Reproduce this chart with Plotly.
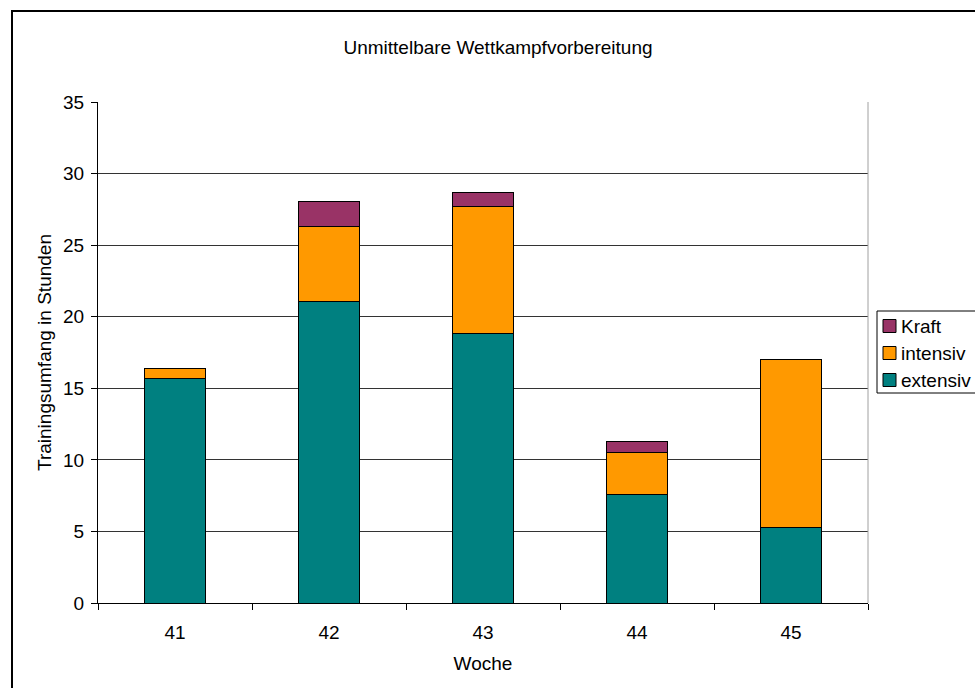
import plotly.graph_objects as go

# Training volume per week (hours), split by intensity
weeks = ["41", "42", "43", "44", "45"]
extensiv = [15.65, 21.05, 18.8, 7.6, 5.25]
intensiv = [0.7, 5.25, 8.9, 2.9, 11.75]
kraft = [0.0, 1.75, 1.0, 0.75, 0.0]

y_ticks = [0, 5, 10, 15, 20, 25, 30, 35]
title_text = "Unmittelbare Wettkampfvorbereitung"
x_title = "Woche"
y_title = "Trainingsumfang in Stunden"
note_text = "Ironman Florida"

FONT = "Liberation Sans, Arial, sans-serif"
FS = 19
TEAL = "#008080"
ORANGE = "#FF9900"
PLUM = "#993366"

series = [("extensiv", extensiv, TEAL),
          ("intensiv", intensiv, ORANGE),
          ("Kraft", kraft, PLUM)]

fig = go.Figure()
for name, vals, col in series:
    fig.add_trace(go.Bar(
        x=weeks, y=vals, name=name, showlegend=False,
        marker=dict(color=col, line=dict(color="black", width=1)),
        hoverinfo="x+y+name",
    ))

W, H = 975, 688
L, R, T, B = 98, 868, 102, 603
PW, PH = R - L, B - T


def px(x):
    return (x - L) / PW


def py(y):
    return (B - y) / PH


shapes = [
    # light frame line on the right edge of the plotting area
    dict(type="line", xref="paper", yref="paper", x0=1, x1=1, y0=0, y1=1,
         line=dict(color="#a0a0a0", width=1)),
    # outer chart border
    dict(type="rect", xref="paper", yref="paper",
         x0=px(12), x1=px(W + 20), y0=py(H + 20), y1=py(11),
         line=dict(color="black", width=2), fillcolor="rgba(0,0,0,0)",
         layer="above"),
    # legend frame
    dict(type="rect", xref="paper", yref="paper",
         x0=px(877), x1=px(W + 10), y0=py(393), y1=py(311),
         line=dict(color="black", width=1), fillcolor="white"),
]
annotations = [
    dict(x="45", y=(B - 327) / (PH / 35), xref="x", yref="y",
         text=note_text, showarrow=False, xanchor="center", yanchor="middle",
         font=dict(family=FONT, size=16, color="black")),
]

# legend entries, top to bottom: Kraft, intensiv, extensiv
for i, (name, _, col) in enumerate(reversed(series)):
    cy = 326 + 27 * i
    shapes.append(dict(type="rect", xref="paper", yref="paper",
                       x0=px(883), x1=px(896), y0=py(cy + 6.5), y1=py(cy - 6.5),
                       line=dict(color="black", width=1), fillcolor=col))
    annotations.append(dict(x=px(899), y=py(cy), xref="paper", yref="paper",
                            text=name, showarrow=False,
                            xanchor="left", yanchor="middle",
                            font=dict(family=FONT, size=FS, color="black")))

fig.update_layout(
    width=W, height=H,
    margin=dict(l=L, r=W - R, t=T, b=H - B, pad=0, autoexpand=False),
    barmode="stack",
    bargap=0.6,
    showlegend=False,
    paper_bgcolor="white",
    plot_bgcolor="white",
    font=dict(family=FONT, size=FS, color="black"),
    title=dict(text=title_text, x=498 / W, xanchor="center",
               y=1 - 47 / H, yanchor="middle",
               font=dict(family=FONT, size=FS, color="black")),
    xaxis=dict(
        type="category",
        range=[-0.5, 4.5],
        showline=True, linecolor="black", linewidth=1,
        ticks="outside", ticklen=6, tickcolor="black", tickwidth=1,
        tickson="boundaries",
        ticklabelstandoff=12,
        showgrid=False,
        tickfont=dict(size=FS),
        title=dict(text=x_title, font=dict(size=FS), standoff=14),
    ),
    yaxis=dict(
        range=[0, 35],
        tickvals=y_ticks,
        showline=True, linecolor="black", linewidth=1,
        ticks="outside", ticklen=6, tickcolor="black", tickwidth=1,
        ticklabelstandoff=3,
        showgrid=True, gridcolor="#333333", gridwidth=1,
        zeroline=False,
        tickfont=dict(size=FS),
        title=dict(text=y_title, font=dict(size=FS), standoff=6),
    ),
    annotations=annotations,
    shapes=shapes,
)

fig.write_html("out.html")
